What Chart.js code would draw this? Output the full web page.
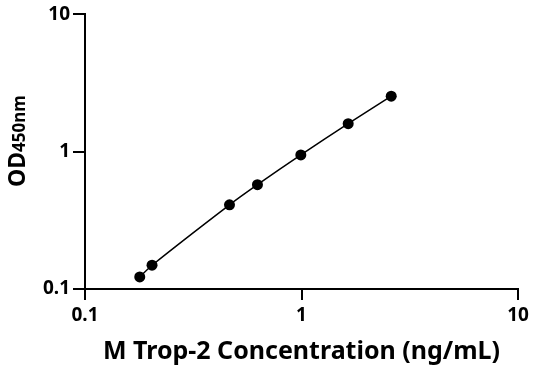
<!DOCTYPE html>
<html>
<head>
<meta charset="utf-8">
<script src="https://cdn.jsdelivr.net/npm/chart.js@4"></script>
<style>
  html, body { margin: 0; padding: 0; background: #fff; }
  #wrap { width: 536px; height: 371px; position: relative; }
</style>
</head>
<body>
<div id="wrap"><canvas id="chart"></canvas></div>
<script>
const concentration = [0.179, 0.204, 0.465, 0.626, 0.993, 1.643, 2.597];
const od450 = [0.1225, 0.149, 0.410, 0.575, 0.948, 1.601, 2.537];
const xTicks = [0.1, 1, 10];
const yTicks = [0.1, 1, 10];

const FONT = '"Noto Sans", "Open Sans", sans-serif';

// título del eje Y con subíndice más pequeño
const yTitlePlugin = {
    id: 'yTitle',
    afterDraw(chart) {
        const ctx = chart.ctx;
        ctx.save();
        ctx.translate(25, 141);
        ctx.rotate(-Math.PI / 2);
        ctx.fillStyle = '#000';
        ctx.textBaseline = 'alphabetic';
        ctx.textAlign = 'left';
        ctx.font = 'bold 23px ' + FONT;
        const w1 = ctx.measureText('OD').width;
        ctx.font = 'bold 17px ' + FONT;
        const w2 = ctx.measureText('450nm').width;
        const x = -(w1 + w2) / 2;
        ctx.font = 'bold 23px ' + FONT;
        ctx.fillText('OD', x, 0);
        ctx.font = 'bold 17px ' + FONT;
        ctx.fillText('450nm', x + w1, 0);
        ctx.restore();
    }
};

const ctx = document.getElementById('chart').getContext('2d');
new Chart(ctx, {
    type: 'line',
    data: {
        datasets: [{
            data: concentration.map((c, i) => ({ x: c, y: od450[i] })),
            borderColor: '#000',
            backgroundColor: '#000',
            borderWidth: 1.5,
            pointRadius: 5.5,
            pointBorderWidth: 0,
            tension: 0.2,
            fill: false
        }]
    },
    options: {
        responsive: true,
        maintainAspectRatio: false,
        animation: false,
        layout: { padding: { top: 14, right: 18, left: 0, bottom: 0 } },
        plugins: { legend: { display: false }, tooltip: { enabled: false } },
        scales: {
            x: {
                type: 'logarithmic',
                min: 0.1,
                max: 10,
                afterBuildTicks: s => { s.ticks = xTicks.map(v => ({ value: v })); },
                afterFit: s => { s.height = 82; },
                border: { color: '#000', width: 2 },
                grid: { drawOnChartArea: false, drawTicks: true, tickLength: 11, color: '#000', lineWidth: 2 },
                ticks: {
                    color: '#000',
                    padding: 4,
                    maxRotation: 0,
                    font: { family: FONT, size: 19, weight: 'bold' },
                    callback: v => String(v)
                },
                title: {
                    display: true,
                    text: 'M Trop-2 Concentration (ng/mL)',
                    color: '#000',
                    padding: { top: 8 },
                    font: { family: FONT, size: 25, weight: 'bold' }
                }
            },
            y: {
                type: 'logarithmic',
                min: 0.1,
                max: 10,
                afterBuildTicks: s => { s.ticks = yTicks.map(v => ({ value: v })); },
                afterFit: s => { s.width = 85; },
                border: { color: '#000', width: 2 },
                grid: { drawOnChartArea: false, drawTicks: true, tickLength: 12, color: '#000', lineWidth: 2 },
                ticks: {
                    color: '#000',
                    padding: 3,
                    font: { family: FONT, size: 19, weight: 'bold' },
                    callback: v => String(v)
                }
            }
        }
    },
    plugins: [yTitlePlugin]
});
</script>
</body>
</html>
